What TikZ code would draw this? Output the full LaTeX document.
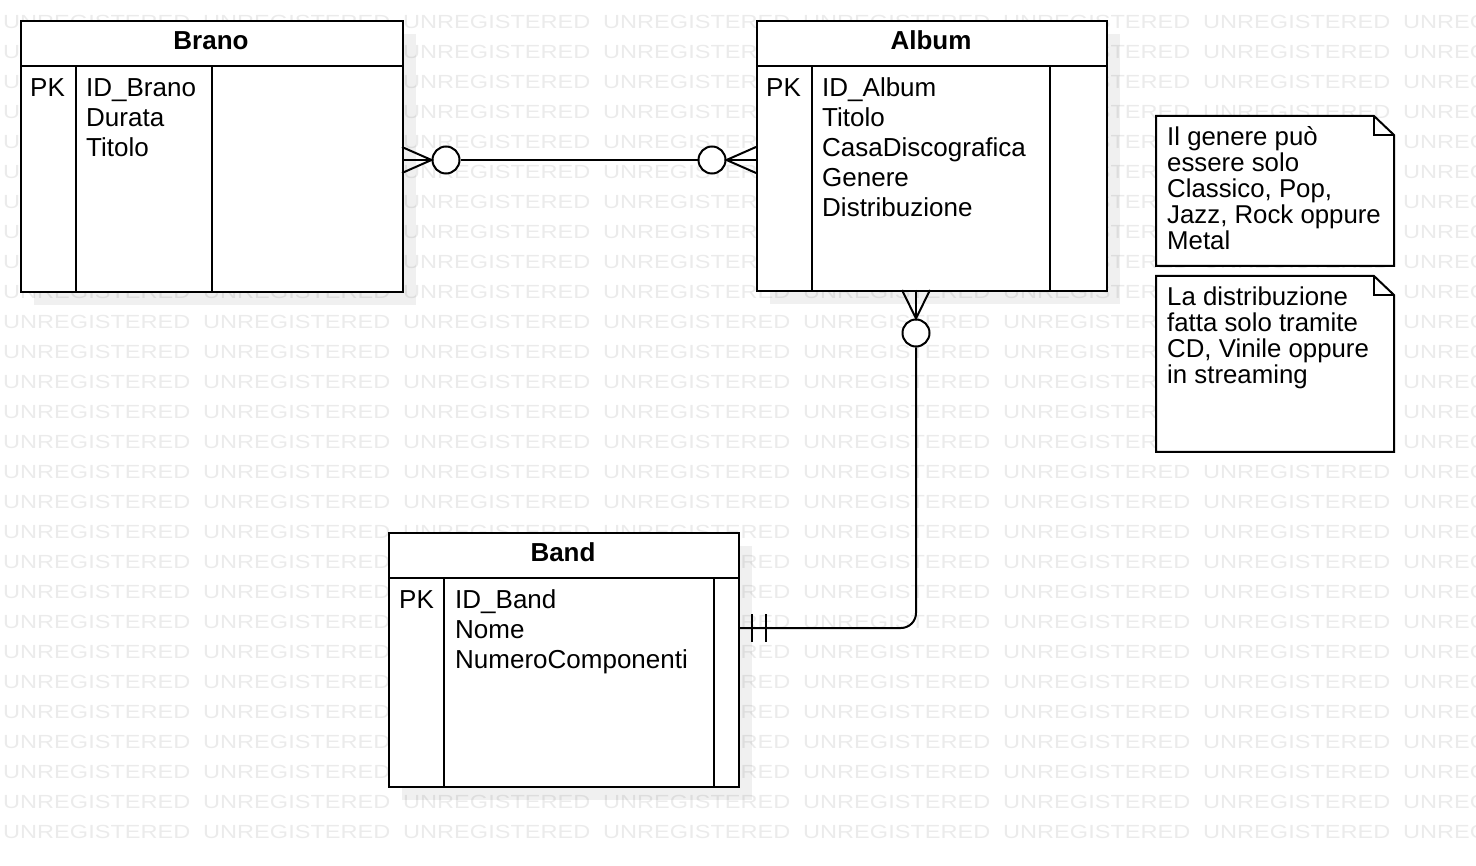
\documentclass[tikz,border=0pt]{standalone}
\usepackage{fontspec}
\setmainfont{Liberation Sans}
\newfontfamily\wmfont{Liberation Sans}[FakeStretch=1.24]
\usepackage{tikz}

\tikzset{
  tablebox/.style={draw, line width=2pt, fill=white, anchor=north west, inner sep=0pt},
  shadowbox/.style={fill=black, fill opacity=0.06},
  colline/.style={line width=1.5pt},
  tabletitle/.style={font=\fontsize{26}{30}\selectfont\bfseries, anchor=base, inner sep=0pt},
  field/.style={font=\fontsize{26}{30}\selectfont, anchor=base west, inner sep=0pt},
  notetext/.style={font=\fontsize{25.8}{26}\selectfont, anchor=base west, inner sep=0pt},
  notebox/.style={draw, line width=2pt, fill=white},
  foldline/.style={line width=1.3pt},
  ring/.style={circle, draw, line width=2pt, fill=white, minimum size=27pt, inner sep=0pt},
  link/.style={line width=2pt},
  wm/.style={font=\wmfont\fontsize{19}{19}\selectfont, text=black!8, anchor=base west, inner sep=0pt}
}

\begin{document}
\begin{tikzpicture}[x=1pt, y=-1pt]
    \useasboundingbox (0,0) rectangle (1476,866);
    \clip (0,0) rectangle (1476,866);

    % Watermark in the background
    \foreach \r in {0,...,27}
        \foreach \c in {0,...,7}
            \node[wm] (wm-\r-\c) at (3+200*\c, 28.4+30*\r) {UNREGISTERED};

    % Table Brano
    \fill[shadowbox] (34,34) rectangle (416,305);
    \node[tablebox, minimum width=382pt, minimum height=271pt] (brano) at (20,20) {};
    \draw[line width=2pt] (20,66) -- (402,66);
    \draw[colline] (76,66) -- (76,291);
    \draw[colline] (212,66) -- (212,291);
    \node[tabletitle] (brano-title) at (211,49.5) {Brano};
    \node[field] (brano-pk) at (30,97) {PK};
    \foreach \f [count=\i from 0] in {ID\_Brano, Durata, Titolo}
        \node[field] (brano-f\i) at (86,97+30*\i) {\f};

    % Table Album
    \fill[shadowbox] (770,34) rectangle (1120,304);
    \node[tablebox, minimum width=350pt, minimum height=270pt] (album) at (756,20) {};
    \draw[line width=2pt] (756,66) -- (1106,66);
    \draw[colline] (812,66) -- (812,290);
    \draw[colline] (1050,66) -- (1050,290);
    \node[tabletitle] (album-title) at (931,49.5) {Album};
    \node[field] (album-pk) at (766,97) {PK};
    \foreach \f [count=\i from 0] in {ID\_Album, Titolo, CasaDiscografica, Genere, Distribuzione}
        \node[field] (album-f\i) at (822,97+30*\i) {\f};

    % Table Band
    \fill[shadowbox] (402,546) rectangle (752,800);
    \node[tablebox, minimum width=350pt, minimum height=254pt] (band) at (388,532) {};
    \draw[line width=2pt] (388,578) -- (738,578);
    \draw[colline] (444,578) -- (444,786);
    \draw[colline] (714,578) -- (714,786);
    \node[tabletitle] (band-title) at (563,561) {Band};
    \node[field] (band-pk) at (399,608) {PK};
    \foreach \f [count=\i from 0] in {ID\_Band, Nome, NumeroComponenti}
        \node[field] (band-f\i) at (455,608+30*\i) {\f};

    % Brano -- Album (zero or many on both sides)
    \coordinate (brano-r) at (402,160);
    \coordinate (album-l) at (756,160);
    \node[ring] (ring-b) at (446,160) {};
    \node[ring] (ring-a) at (712,160) {};
    \draw[link] (brano-r) -- (ring-b);
    \draw[link] (402,147) -- (ring-b.west) -- (402,173);
    \draw[link] (ring-b) -- (ring-a);
    \draw[link] (ring-a) -- (album-l);
    \draw[link] (756,147) -- (ring-a.east) -- (756,173);

    % Album -- Band (zero or many to exactly one)
    \coordinate (album-b) at (916,290);
    \coordinate (band-r) at (738,628);
    \node[ring] (ring-c) at (916,333) {};
    \draw[link] (album-b) -- (ring-c);
    \draw[link] (902,290) -- (ring-c.north) -- (930,290);
    \draw[link, rounded corners=15pt] (ring-c) |- (band-r);
    \draw[link] (752,614) -- (752,642);
    \draw[link] (766,614) -- (766,642);

    % Note on Genere
    \draw[notebox] (1156,116) -- (1374,116) -- (1394,135) -- (1394,266) -- (1156,266) -- cycle;
    \draw[foldline] (1374,116) -- (1374,135) -- (1394,135);
    \foreach \t [count=\i from 0] in {Il genere può, essere solo, {Classico, Pop,}, {Jazz, Rock oppure}, Metal}
        \node[notetext] (note-g\i) at (1167,145.5+26*\i) {\t};

    % Note on Distribuzione
    \draw[notebox] (1156,276) -- (1374,276) -- (1394,295) -- (1394,452) -- (1156,452) -- cycle;
    \draw[foldline] (1374,276) -- (1374,295) -- (1394,295);
    \foreach \t [count=\i from 0] in {La distribuzione, fatta solo tramite, {CD, Vinile oppure}, in streaming}
        \node[notetext] (note-d\i) at (1167,305.5+26*\i) {\t};
\end{tikzpicture}
\end{document}
